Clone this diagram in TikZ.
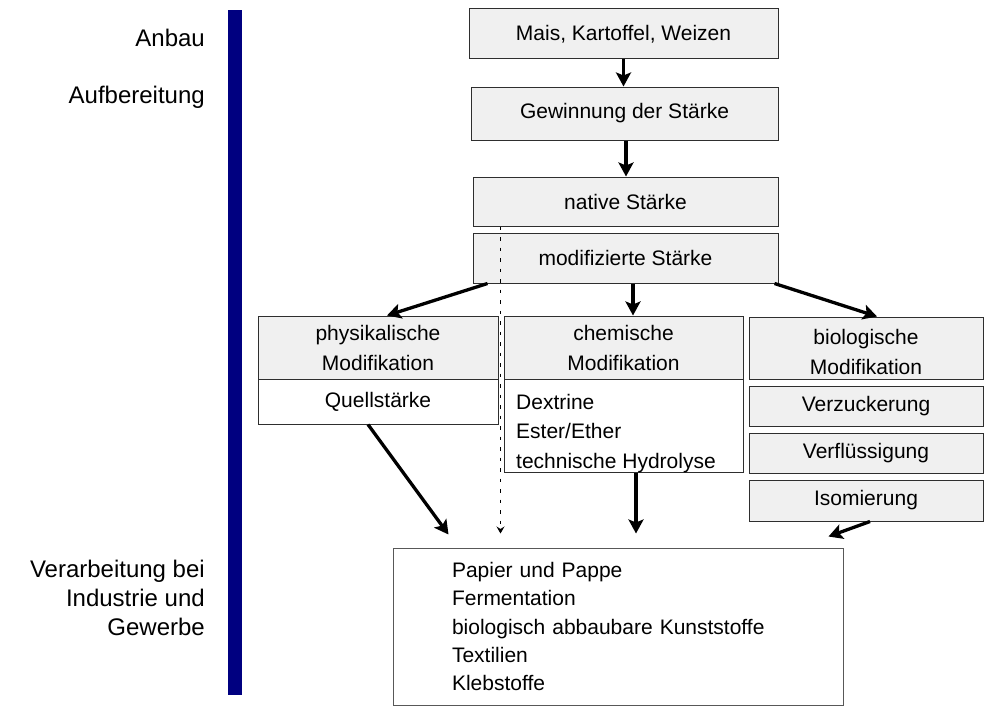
\documentclass[tikz,border=0pt]{standalone}
\usepackage{fontspec}
\setmainfont{Liberation Sans}
\usetikzlibrary{arrows.meta,calc}
\definecolor{boxfill}{HTML}{F0F0F0}
\definecolor{boxline}{HTML}{2E2E2E}
\definecolor{barblue}{HTML}{000080}

\begin{document}
\begin{tikzpicture}[x=1pt,y=-1pt,
  every node/.style={inner sep=0pt, font=\fontsize{21}{30}\selectfont},
  graybox/.style={draw=boxline, line width=1pt, fill=boxfill, align=center},
  whitebox/.style={draw=boxline, line width=1pt, fill=white},
  flow/.style={line width=3.3pt, -{Stealth[length=14pt,width=15pt,inset=3pt]}},
  hint/.style={line width=1.1pt, dash pattern=on 3.5pt off 7pt, -{Stealth[length=7pt,width=8pt,inset=2.5pt]}},
  stage/.style={align=right, font=\fontsize{24}{29}\selectfont}]

\useasboundingbox (0,0) rectangle (985,717);

% stage bar and stage labels
\fill[barblue] (228,10) rectangle (242,695);
\node[stage, anchor=base east] (anbau) at (205,47) {Anbau};
\node[stage, anchor=base east] (aufb) at (205,103) {Aufbereitung};
\node[stage, anchor=north east] (verarb) at (205,560) {Verarbeitung bei\\Industrie und\\Gewerbe};

% main chain
\node[graybox, minimum width=309pt, minimum height=50pt] (mais) at (623.5,34) {Mais, Kartoffel, Weizen};
\node[graybox, minimum width=307pt, minimum height=53pt] (gew) at (624.5,113.5) {Gewinnung der Stärke};
\node[graybox, minimum width=305pt, minimum height=49pt] (native) at (625.5,201.5) {native Stärke};
\node[graybox, minimum width=305pt, minimum height=50pt] (modif) at (625.5,258) {modifizierte Stärke};

% physical modification
\node[graybox, minimum width=240pt, minimum height=63pt] (phys) at (378,347.5) {physikalische\\Modifikation};
\node[whitebox, minimum width=240pt, minimum height=45pt] (physL) at (378,401.5) {Quellstärke};

% chemical modification
\node[graybox, minimum width=239pt, minimum height=63pt] (chem) at (623.5,347.5) {chemische\\Modifikation};
\node[whitebox, minimum width=239pt, minimum height=93pt] (chemL) at (623.5,425.5) {};
\node[anchor=north west, align=left, font=\fontsize{21}{29.5}\selectfont] (chemT) at (516,394)
  {Dextrine\\Ester/Ether\\technische Hydrolyse};

% biological modification
\node[graybox, minimum width=234pt, minimum height=62pt] (bio) at (866,348) {};
\node[align=center] (bioT) at (866,352) {biologische\\Modifikation};
\node[graybox, minimum width=234pt, minimum height=40pt] (verz) at (866,406) {Verzuckerung};
\node[graybox, minimum width=234pt, minimum height=40pt] (verfl) at (866,453) {Verflüssigung};
\node[graybox, minimum width=234pt, minimum height=41pt] (iso) at (866,500.5) {Isomierung};

% uses
\node[whitebox, draw=boxline!80, minimum width=450pt, minimum height=157pt,
      text width=332pt, inner xsep=59pt, align=left, font=\fontsize{21}{28.3}\selectfont]
  (use) at (618,626.5)
  {Papier und Pappe\\Fermentation\\biologisch abbaubare Kunststoffe\\Textilien\\Klebstoffe};

% connectors
\coordinate (inA) at ([shift={(56,-13)}]use.north west);
\coordinate (inD) at ([shift={(108,-14)}]use.north west);
\coordinate (inC) at ([shift={(243,-14)}]use.north west);
\coordinate (inI) at ([shift={(-15,-11)}]use.north east);
\coordinate (mc) at ([xshift=7.5pt]modif.south);
\coordinate (cc) at ([xshift=12.5pt]chemL.south);
\coordinate (dtop) at ([xshift=28pt]native.south west);

\draw[flow] (mais.south) -- (mais.south |- gew.north);
\draw[flow] ([xshift=1.5pt]gew.south) -- ([xshift=1.5pt]gew.south |- native.north);
\draw[flow] (mc) -- (mc |- chem.north);
\draw[flow] ([xshift=15pt]modif.south west) -- ([xshift=9pt]phys.north);
\draw[flow] ([xshift=-4pt]modif.south east) -- ([xshift=11pt]bio.north);
\draw[flow] ([xshift=-10pt]physL.south) -- (inA);
\draw[flow] (cc) -- (cc |- inC);
\draw[flow] ([xshift=4pt]iso.south) -- (inI);
\draw[hint] (dtop) -- (dtop |- inD);
\end{tikzpicture}
\end{document}
